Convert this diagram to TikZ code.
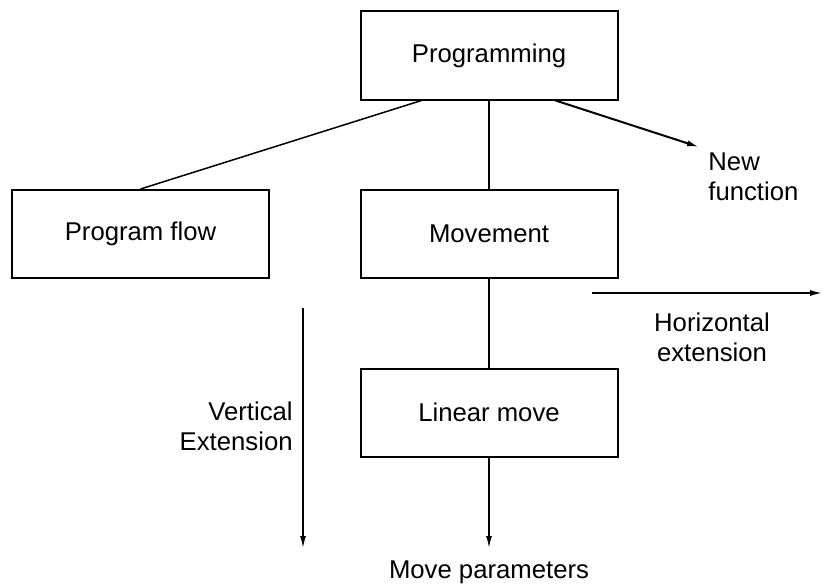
\documentclass[tikz,border=0pt]{standalone}
\usepackage{fontspec}
\setmainfont{Liberation Sans}
\usetikzlibrary{arrows.meta,calc}
\begin{document}
\begin{tikzpicture}[x=0.5pt,y=-0.5pt,
  txt/.style={font=\fontsize{12.85}{15}\selectfont},
  box/.style={txt,draw,line width=1pt,minimum width=128.5pt,minimum height=44pt,inner sep=0pt},
  lbl/.style={txt,inner sep=0pt},
  link/.style={line width=0.75pt},
  arr/.style={link,-{Latex[length=6pt,width=3pt]}}]
  \useasboundingbox (0,0) rectangle (822,583);

  % boxes
  \node[box] (prog)  at (489,55.5) {Programming};
  \node[box] (pflow) at (140.5,234) {Program flow};
  \node[box] (move)  at (489,234) {Movement};
  \node[box] (lin)   at (489,412.5) {Linear move};

  % labels
  \node[lbl,anchor=west,align=left]  (newf)  at (708,177) {New\\function};
  \node[lbl,align=center]            (horiz) at (712,337) {Horizontal\\extension};
  \node[lbl,anchor=east,align=right] (vert)  at (293,426) {Vertical\\Extension};
  \node[lbl]                         (mpar)  at (489,572) {Move parameters};

  % free ends of the open arrows
  \coordinate (nfend) at (699,147);
  \coordinate (hstart) at (592,293);
  \coordinate (hend) at (822,293);
  \coordinate (vstart) at (303,308);
  \coordinate (vend) at (303,548);
  \coordinate (mend) at (489,548);

  % tree connectors
  \draw[link] (pflow.north) -- ($(prog.south west)+(62,0)$);
  \draw[link] (prog.south) -- (move.north);
  \draw[link] (move.south) -- (lin.north);
  \draw[arr,line width=1pt] ($(prog.south east)+(-63,0)$) -- (nfend);
  \draw[arr] (lin.south) -- (mend);

  % extension arrows
  \draw[arr] (hstart) -- (hend);
  \draw[arr] (vstart) -- (vend);
\end{tikzpicture}
\end{document}
